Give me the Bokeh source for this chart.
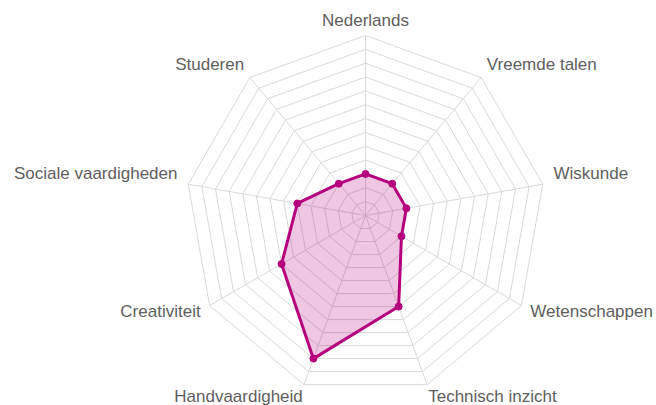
import numpy as np
from bokeh.plotting import figure
from bokeh.models import Range1d
from bokeh.embed import file_html
from bokeh.resources import INLINE
from bokeh.core.properties import value

# ---- data ----
categories = ["Nederlands", "Vreemde talen", "Wiskunde", "Wetenschappen",
              "Technisch inzicht", "Handvaardigheid", "Creativiteit",
              "Sociale vaardigheden", "Studeren"]
scores = [3, 3, 3, 3, 7, 11, 7, 5, 3]
scale_max = 13
ring_levels = list(range(1, scale_max + 1))

# ---- layout ----
W, H = 656, 405
cx_px, cy_px = 365, 215
radius_px = 180
ppu = radius_px / scale_max

p = figure(width=W, height=H, output_backend="svg", toolbar_location=None,
           x_range=Range1d(-cx_px / ppu, (W - cx_px) / ppu),
           y_range=Range1d(-(H - cy_px) / ppu, cy_px / ppu),
           min_border=0, x_axis_location=None, y_axis_location=None)
p.xgrid.visible = False
p.ygrid.visible = False
p.outline_line_color = None
p.background_fill_color = "white"

n = len(categories)
theta = np.array([2 * np.pi * k / n for k in range(n)])
sx, sy = np.sin(theta), np.cos(theta)

grid_color = "#d9d9d9"
# rings
ring_xs = [list(np.append(lv * sx, lv * sx[0])) for lv in ring_levels]
ring_ys = [list(np.append(lv * sy, lv * sy[0])) for lv in ring_levels]
p.multi_line(ring_xs, ring_ys, line_color=grid_color, line_width=1)
# spokes
p.segment(x0=np.zeros(n), y0=np.zeros(n), x1=scale_max * sx, y1=scale_max * sy,
          line_color=grid_color, line_width=1)

# series
vals = np.array(scores, dtype=float)
px, py = vals * sx, vals * sy
series_color = "#b4007d"
p.patch(list(px), list(py), fill_color=series_color, fill_alpha=0.22, line_color=None)
p.line(list(np.append(px, px[0])), list(np.append(py, py[0])),
       line_color=series_color, line_width=3, line_join="round")
p.scatter(list(px), list(py), size=7, fill_color=series_color, line_color=series_color)

# labels
label_r = 195 / ppu
lx, ly, aligns, xoffs, yoffs = [], [], [], [], []
for k in range(n):
    lx.append(label_r * sx[k])
    ly.append(label_r * sy[k])
    if abs(sx[k]) < 1e-6:
        aligns.append("center"); xoffs.append(0)
    elif sx[k] > 0:
        aligns.append("left"); xoffs.append(-4)
    else:
        aligns.append("right"); xoffs.append(4)
    if abs(sy[k]) < 0.3:
        yoffs.append(-8)
    elif abs(sx[k]) < 1e-6:
        yoffs.append(0)
    else:
        yoffs.append(-2)

src = dict(x=lx, y=ly, t=categories, a=aligns, xo=xoffs, yo=yoffs)
p.text(x="x", y="y", text="t", text_align="a", x_offset="xo", y_offset="yo",
       source=src, text_baseline="middle", text_font=value("Liberation Sans"),
       text_font_size="17px", text_color="#606060")

open("out.html", "w").write(file_html(p, INLINE))
